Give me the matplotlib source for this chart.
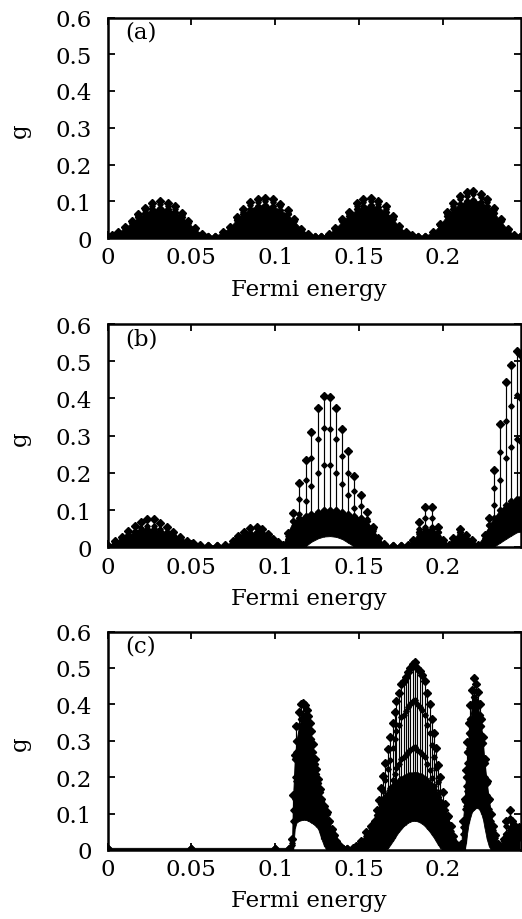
import matplotlib
matplotlib.use("Agg")
import matplotlib.pyplot as plt

# ---------------- data ----------------
xticks = [0, 0.05, 0.1, 0.15, 0.2]
xtick_labels = ["0", "0.05", "0.1", "0.15", "0.2"]
yticks = [0, 0.1, 0.2, 0.3, 0.4, 0.5, 0.6]
ytick_labels = ["0", "0.1", "0.2", "0.3", "0.4", "0.5", "0.6"]
panel_labels = ["(a)", "(b)", "(c)"]
xlabel = "Fermi energy"
ylabel = "g"

# panel (a)
a_E = [0.0000, 0.0025, 0.0065, 0.0104, 0.0144, 0.0184, 0.0223, 0.0263, 0.0313, 0.0358,
       0.0402, 0.0441, 0.0481, 0.0521, 0.0561, 0.0600, 0.0640, 0.0689, 0.0729, 0.0769,
       0.0808, 0.0848, 0.0898, 0.0938, 0.0987, 0.1027, 0.1073, 0.1112, 0.1156, 0.1195,
       0.1235, 0.1275, 0.1317, 0.1356, 0.1400, 0.1440, 0.1485, 0.1525, 0.1570, 0.1614,
       0.1658, 0.1699, 0.1737, 0.1779, 0.1813, 0.1850, 0.1890, 0.1941, 0.1981, 0.2021,
       0.2061, 0.2100, 0.2140, 0.2180, 0.2223, 0.2263, 0.2303, 0.2342, 0.2384, 0.2424,
       0.2460]
a_top = [0.004, 0.008, 0.017, 0.029, 0.047, 0.065, 0.081, 0.095, 0.100, 0.096,
         0.086, 0.068, 0.047, 0.026, 0.011, 0.004, 0.003, 0.015, 0.031, 0.056,
         0.078, 0.097, 0.107, 0.110, 0.105, 0.093, 0.075, 0.052, 0.025, 0.011,
         0.004, 0.003, 0.011, 0.026, 0.052, 0.072, 0.094, 0.106, 0.109, 0.101,
         0.086, 0.061, 0.034, 0.015, 0.008, 0.004, 0.004, 0.015, 0.038, 0.070,
         0.095, 0.114, 0.125, 0.129, 0.121, 0.105, 0.081, 0.052, 0.024, 0.008,
         0.004]
a_mid = [0.004, 0.007, 0.015, 0.026, 0.043, 0.060, 0.075, 0.087, 0.092, 0.088,
         0.079, 0.062, 0.043, 0.024, 0.010, 0.004, 0.003, 0.014, 0.028, 0.051,
         0.072, 0.089, 0.098, 0.101, 0.097, 0.086, 0.069, 0.048, 0.023, 0.010,
         0.004, 0.003, 0.010, 0.024, 0.048, 0.066, 0.086, 0.097, 0.100, 0.093,
         0.079, 0.056, 0.031, 0.014, 0.007, 0.004, 0.004, 0.014, 0.035, 0.064,
         0.087, 0.105, 0.115, 0.119, 0.111, 0.097, 0.075, 0.048, 0.022, 0.007,
         0.004]
a_dense = [0.006, 0.008, 0.016, 0.027, 0.042, 0.056, 0.068, 0.078, 0.082, 0.079,
           0.072, 0.058, 0.042, 0.024, 0.011, 0.006, 0.006, 0.015, 0.029, 0.050,
           0.066, 0.080, 0.088, 0.090, 0.086, 0.077, 0.064, 0.046, 0.024, 0.011,
           0.006, 0.006, 0.011, 0.025, 0.046, 0.061, 0.078, 0.087, 0.089, 0.083,
           0.072, 0.053, 0.031, 0.015, 0.008, 0.006, 0.006, 0.015, 0.035, 0.060,
           0.079, 0.093, 0.101, 0.104, 0.098, 0.087, 0.069, 0.046, 0.023, 0.008,
           0.006]
a_low = [0.0] * len(a_E)

# panel (b)
b_E = [0.0000, 0.0045, 0.0084, 0.0124, 0.0164, 0.0199, 0.0237, 0.0277, 0.0313, 0.0352,
       0.0392, 0.0432, 0.0471, 0.0511, 0.0550, 0.0600, 0.0650, 0.0700, 0.0749, 0.0779,
       0.0815, 0.0848, 0.0888, 0.0922, 0.0957, 0.0987, 0.1017, 0.1045, 0.1073, 0.1106,
       0.1142, 0.1180, 0.1215, 0.1254, 0.1289, 0.1327, 0.1363, 0.1399, 0.1435, 0.1470,
       0.1509, 0.1545, 0.1580, 0.1614, 0.1650, 0.1700, 0.1750, 0.1790, 0.1823, 0.1856,
       0.1892, 0.1932, 0.1967, 0.2001, 0.2035, 0.2061, 0.2100, 0.2134, 0.2170, 0.2205,
       0.2249, 0.2275, 0.2304, 0.2338, 0.2372, 0.2404, 0.2438, 0.2458]
b_top = [0.004, 0.016, 0.028, 0.043, 0.058, 0.069, 0.076, 0.075, 0.066, 0.055,
         0.042, 0.029, 0.018, 0.011, 0.006, 0.003, 0.003, 0.005, 0.016, 0.030,
         0.042, 0.051, 0.055, 0.048, 0.037, 0.022, 0.013, 0.005, 0.038, 0.091,
         0.172, 0.234, 0.310, 0.374, 0.406, 0.405, 0.373, 0.318, 0.259, 0.192,
         0.140, 0.096, 0.055, 0.025, 0.008, 0.003, 0.003, 0.005, 0.020, 0.068,
         0.108, 0.108, 0.055, 0.020, 0.005, 0.025, 0.049, 0.033, 0.020, 0.005,
         0.034, 0.078, 0.207, 0.332, 0.443, 0.490, 0.528, 0.520]
b_mid = [0.003, 0.012, 0.021, 0.032, 0.044, 0.052, 0.057, 0.056, 0.050, 0.041,
         0.031, 0.022, 0.014, 0.008, 0.004, 0.002, 0.002, 0.004, 0.012, 0.022,
         0.032, 0.038, 0.041, 0.036, 0.028, 0.017, 0.010, 0.004, 0.030, 0.070,
         0.130, 0.180, 0.240, 0.290, 0.320, 0.318, 0.290, 0.245, 0.200, 0.150,
         0.110, 0.076, 0.044, 0.020, 0.006, 0.002, 0.002, 0.004, 0.015, 0.050,
         0.080, 0.080, 0.042, 0.015, 0.004, 0.018, 0.036, 0.025, 0.015, 0.004,
         0.026, 0.060, 0.160, 0.255, 0.340, 0.380, 0.410, 0.400]
b_mid2 = [0.002, 0.008, 0.014, 0.022, 0.030, 0.036, 0.040, 0.040, 0.035, 0.029,
          0.022, 0.015, 0.010, 0.006, 0.003, 0.002, 0.002, 0.003, 0.008, 0.015,
          0.022, 0.027, 0.029, 0.026, 0.020, 0.012, 0.007, 0.003, 0.022, 0.050,
          0.090, 0.125, 0.165, 0.200, 0.220, 0.220, 0.200, 0.170, 0.140, 0.105,
          0.080, 0.056, 0.033, 0.015, 0.004, 0.002, 0.002, 0.003, 0.010, 0.035,
          0.055, 0.055, 0.030, 0.010, 0.003, 0.012, 0.025, 0.018, 0.010, 0.003,
          0.020, 0.045, 0.115, 0.180, 0.240, 0.270, 0.290, 0.285]
b_dense = [0.006, 0.014, 0.024, 0.034, 0.042, 0.046, 0.048, 0.048, 0.044, 0.040,
           0.034, 0.026, 0.018, 0.011, 0.006, 0.006, 0.006, 0.006, 0.016, 0.026,
           0.034, 0.038, 0.040, 0.038, 0.032, 0.022, 0.013, 0.006, 0.038, 0.070,
           0.080, 0.085, 0.090, 0.095, 0.100, 0.100, 0.100, 0.095, 0.090, 0.085,
           0.080, 0.070, 0.050, 0.025, 0.008, 0.006, 0.006, 0.006, 0.020, 0.040,
           0.050, 0.050, 0.040, 0.020, 0.006, 0.025, 0.040, 0.033, 0.020, 0.006,
           0.034, 0.060, 0.080, 0.100, 0.115, 0.125, 0.130, 0.130]
b_low = [0.0, 0.0, 0.0, 0.0, 0.0, 0.0, 0.0, 0.0, 0.0, 0.0,
         0.0, 0.0, 0.0, 0.0, 0.0, 0.0, 0.0, 0.0, 0.0, 0.0,
         0.0, 0.0, 0.0, 0.0, 0.0, 0.0, 0.0, 0.0, 0.0, 0.0,
         0.0, 0.003, 0.015, 0.024, 0.029, 0.030, 0.028, 0.022, 0.012, 0.002,
         0.0, 0.0, 0.0, 0.0, 0.0, 0.0, 0.0, 0.0, 0.0, 0.0,
         0.0, 0.0, 0.0, 0.0, 0.0, 0.0, 0.0, 0.0, 0.0, 0.0,
         0.0, 0.0, 0.002, 0.012, 0.022, 0.031, 0.040, 0.042]

# panel (c)
c_E = [0.0000, 0.0500, 0.1000, 0.1080, 0.1100, 0.1106, 0.1116, 0.1126, 0.1141, 0.1156,
       0.1166, 0.1176, 0.1186, 0.1195, 0.1205, 0.1215, 0.1225, 0.1235, 0.1245, 0.1255,
       0.1265, 0.1275, 0.1290, 0.1305, 0.1320, 0.1335, 0.1350, 0.1364, 0.1384, 0.1404,
       0.1430, 0.1460, 0.1483, 0.1513, 0.1543, 0.1568, 0.1592, 0.1605, 0.1618, 0.1630,
       0.1642, 0.1656, 0.1671, 0.1686, 0.1701, 0.1711, 0.1721, 0.1736, 0.1751, 0.1764,
       0.1777, 0.1791, 0.1805, 0.1818, 0.1830, 0.1845, 0.1860, 0.1875, 0.1890, 0.1905,
       0.1920, 0.1932, 0.1943, 0.1956, 0.1969, 0.1984, 0.1999, 0.2014, 0.2029, 0.2044,
       0.2058, 0.2073, 0.2088, 0.2100, 0.2108, 0.2118, 0.2128, 0.2136, 0.2144, 0.2153,
       0.2162, 0.2172, 0.2183, 0.2195, 0.2207, 0.2217, 0.2227, 0.2237, 0.2247, 0.2260,
       0.2273, 0.2285, 0.2296, 0.2311, 0.2326, 0.2346, 0.2360, 0.2376, 0.2396, 0.2412,
       0.2426, 0.2440, 0.2455]
c_top = [0.004, 0.004, 0.004, 0.004, 0.030, 0.150, 0.260, 0.340, 0.380, 0.400,
         0.405, 0.398, 0.385, 0.368, 0.350, 0.328, 0.290, 0.250, 0.222, 0.196,
         0.168, 0.140, 0.120, 0.104, 0.080, 0.058, 0.040, 0.026, 0.012, 0.004,
         0.004, 0.005, 0.010, 0.025, 0.049, 0.065, 0.081, 0.110, 0.136, 0.170,
         0.203, 0.240, 0.278, 0.310, 0.350, 0.380, 0.409, 0.430, 0.455, 0.465,
         0.476, 0.490, 0.500, 0.510, 0.515, 0.500, 0.491, 0.480, 0.464, 0.430,
         0.402, 0.360, 0.320, 0.280, 0.234, 0.200, 0.159, 0.125, 0.094, 0.065,
         0.039, 0.020, 0.007, 0.005, 0.017, 0.080, 0.140, 0.220, 0.297, 0.350,
         0.398, 0.440, 0.471, 0.455, 0.434, 0.400, 0.361, 0.310, 0.251, 0.190,
         0.140, 0.100, 0.067, 0.040, 0.017, 0.004, 0.030, 0.081, 0.111, 0.080,
         0.067, 0.050, 0.062]
c_mid = [0.003, 0.003, 0.003, 0.003, 0.020, 0.110, 0.200, 0.270, 0.300, 0.320,
         0.325, 0.318, 0.305, 0.290, 0.280, 0.262, 0.232, 0.200, 0.178, 0.157,
         0.134, 0.112, 0.096, 0.083, 0.064, 0.046, 0.032, 0.021, 0.010, 0.003,
         0.003, 0.004, 0.008, 0.020, 0.039, 0.052, 0.065, 0.088, 0.109, 0.136,
         0.162, 0.192, 0.222, 0.248, 0.280, 0.304, 0.327, 0.344, 0.364, 0.372,
         0.381, 0.392, 0.400, 0.408, 0.412, 0.400, 0.393, 0.384, 0.371, 0.344,
         0.322, 0.288, 0.256, 0.224, 0.187, 0.160, 0.127, 0.100, 0.075, 0.052,
         0.031, 0.016, 0.006, 0.004, 0.014, 0.064, 0.112, 0.176, 0.238, 0.280,
         0.318, 0.352, 0.377, 0.364, 0.347, 0.320, 0.289, 0.248, 0.201, 0.152,
         0.112, 0.080, 0.054, 0.032, 0.014, 0.003, 0.024, 0.065, 0.089, 0.064,
         0.054, 0.040, 0.050]
c_mid2 = [0.002, 0.002, 0.002, 0.002, 0.015, 0.080, 0.140, 0.190, 0.210, 0.220,
          0.223, 0.219, 0.212, 0.202, 0.193, 0.180, 0.160, 0.138, 0.122, 0.108,
          0.092, 0.077, 0.066, 0.057, 0.044, 0.032, 0.022, 0.014, 0.007, 0.002,
          0.002, 0.003, 0.006, 0.014, 0.027, 0.036, 0.045, 0.060, 0.075, 0.094,
          0.112, 0.132, 0.153, 0.171, 0.193, 0.209, 0.225, 0.237, 0.250, 0.256,
          0.262, 0.270, 0.275, 0.281, 0.283, 0.275, 0.270, 0.264, 0.255, 0.237,
          0.221, 0.198, 0.176, 0.154, 0.129, 0.110, 0.087, 0.069, 0.052, 0.036,
          0.021, 0.011, 0.004, 0.003, 0.009, 0.044, 0.077, 0.121, 0.163, 0.193,
          0.219, 0.242, 0.259, 0.250, 0.239, 0.220, 0.199, 0.171, 0.138, 0.105,
          0.077, 0.055, 0.037, 0.022, 0.009, 0.002, 0.017, 0.045, 0.061, 0.044,
          0.037, 0.028, 0.034]
c_dense = [0.006, 0.006, 0.006, 0.006, 0.030, 0.150, 0.250, 0.300, 0.340, 0.360,
           0.370, 0.365, 0.355, 0.340, 0.325, 0.305, 0.270, 0.235, 0.210, 0.185,
           0.160, 0.135, 0.115, 0.100, 0.078, 0.056, 0.038, 0.025, 0.012, 0.006,
           0.006, 0.006, 0.010, 0.025, 0.049, 0.063, 0.078, 0.095, 0.110, 0.125,
           0.135, 0.145, 0.155, 0.165, 0.175, 0.180, 0.185, 0.190, 0.195, 0.198,
           0.200, 0.202, 0.205, 0.205, 0.205, 0.205, 0.202, 0.200, 0.195, 0.190,
           0.180, 0.172, 0.165, 0.155, 0.145, 0.135, 0.125, 0.110, 0.090, 0.065,
           0.039, 0.020, 0.007, 0.006, 0.017, 0.080, 0.135, 0.200, 0.270, 0.320,
           0.360, 0.400, 0.420, 0.410, 0.395, 0.370, 0.340, 0.295, 0.240, 0.185,
           0.138, 0.100, 0.067, 0.040, 0.017, 0.006, 0.025, 0.045, 0.055, 0.050,
           0.048, 0.042, 0.045]
c_low = [0.0, 0.0, 0.0, 0.0, 0.0, 0.0, 0.060, 0.075, 0.080, 0.082,
         0.083, 0.083, 0.082, 0.080, 0.078, 0.075, 0.072, 0.068, 0.064, 0.058,
         0.045, 0.030, 0.012, 0.0, 0.0, 0.0, 0.0, 0.0, 0.0, 0.0,
         0.0, 0.0, 0.0, 0.0, 0.0, 0.0, 0.0, 0.0, 0.0, 0.0,
         0.0, 0.0, 0.005, 0.015, 0.025, 0.032, 0.040, 0.050, 0.058, 0.065,
         0.070, 0.075, 0.078, 0.080, 0.080, 0.079, 0.076, 0.072, 0.066, 0.058,
         0.050, 0.042, 0.035, 0.025, 0.015, 0.005, 0.0, 0.0, 0.0, 0.0,
         0.0, 0.0, 0.0, 0.0, 0.0, 0.0, 0.0, 0.020, 0.050, 0.075,
         0.090, 0.105, 0.110, 0.115, 0.115, 0.110, 0.100, 0.085, 0.060, 0.030,
         0.010, 0.0, 0.0, 0.0, 0.0, 0.0, 0.0, 0.0, 0.0, 0.0,
         0.0, 0.0, 0.0]

panels = [
    (a_E, a_top, [a_mid], a_dense, a_low),
    (b_E, b_top, [b_mid, b_mid2], b_dense, b_low),
    (c_E, c_top, [c_mid, c_mid2], c_dense, c_low),
]

# ---------------- layout ----------------
W, H = 522, 920
axes_px = [(18.5, 239.0), (325.0, 548.3), (632.5, 851.0)]  # (top, bottom) pixel rows
left_px, right_px = 107.5, 521.0
XMAX = 0.2464

plt.rcParams["font.family"] = ["DejaVu Serif"]
plt.rcParams["font.size"] = 16.5

fig = plt.figure(figsize=(W / 100, H / 100), dpi=100)

for i, (E, top, mids, dense, low) in enumerate(panels):
    t, b = axes_px[i]
    ax = fig.add_axes([left_px / W, 1 - b / H, (right_px - left_px) / W, (b - t) / H])
    ax.fill_between(E, low, dense, color="black", lw=0.6, edgecolor="black")
    ax.vlines(E, low, top, color="black", lw=0.85)
    ax.plot(E, top, ls="none", marker="D", ms=3.6, color="black")
    for m in mids:
        ax.plot(E, m, ls="none", marker="D", ms=2.8, color="black")
    ax.plot(E, dense, ls="none", marker="D", ms=3.2, color="black")

    ax.set_xlim(0, XMAX)
    ax.set_ylim(0, 0.6)
    ax.set_xticks(xticks)
    ax.set_xticklabels(xtick_labels)
    ax.set_yticks(yticks)
    ax.set_yticklabels(ytick_labels)
    ax.tick_params(direction="in", top=True, right=True, length=5, width=1.3)
    ax.tick_params(axis="x", pad=6)
    ax.tick_params(axis="y", pad=11)
    for s in ax.spines.values():
        s.set_linewidth(1.8)
    ax.set_xlabel(xlabel)
    ax.xaxis.set_label_coords(0.487, -0.18)
    ax.xaxis.label.set_va("top")
    ax.set_ylabel(ylabel)
    ax.yaxis.set_label_coords(-0.185, 0.49)
    ax.text(0.042, 0.985, panel_labels[i], transform=ax.transAxes,
            ha="left", va="top")

fig.savefig("out.png", dpi=100)
